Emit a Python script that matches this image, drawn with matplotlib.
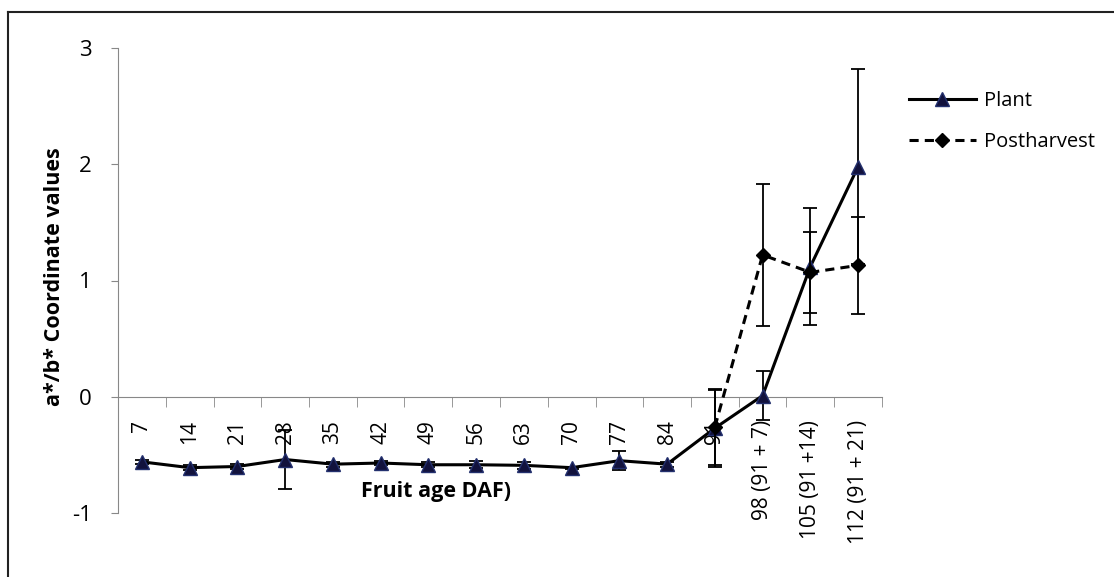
import numpy as np
import matplotlib
matplotlib.use("Agg")
import matplotlib.pyplot as plt
from matplotlib.lines import Line2D

categories = ["7", "14", "21", "28", "35", "42", "49", "56", "63", "70", "77", "84", "91",
              "98 (91 + 7)", "105 (91 +14)", "112 (91 + 21)"]
plant = [-0.56, -0.61, -0.60, -0.54, -0.58, -0.57, -0.585, -0.585, -0.59, -0.61, -0.55, -0.58,
         -0.27, 0.01, 1.12, 1.98]
plant_err = [0.02, 0.02, 0.02, 0.25, 0.02, 0.02, 0.02, 0.03, 0.03, 0.01, 0.08, 0.02,
             0.33, 0.21, 0.50, 0.84]
post = [np.nan] * 12 + [-0.26, 1.22, 1.07, 1.13]
post_err = [np.nan] * 12 + [0.33, 0.61, 0.35, 0.42]

plt.rcParams['font.family'] = ['Open Sans', 'DejaVu Sans']

fig = plt.figure(figsize=(11.14, 5.77), dpi=100)
ax = fig.add_axes([118/1114, 1-513/577, (882-118)/1114, (513-48)/577])

x = np.arange(len(categories))
ax.errorbar(x, plant, yerr=plant_err, color='black', lw=2.2, capsize=5, elinewidth=1.3,
            capthick=1.3, marker='^', ms=10, mfc='#12123d', mec='#23306e', zorder=3)
ax.errorbar(x, post, yerr=post_err, color='black', lw=2.2, ls=(0, (3, 2)), capsize=5,
            elinewidth=1.3, capthick=1.3, marker='D', ms=7.5, mfc='black', mec='black', zorder=4)

ax.set_xlim(-0.5, len(categories) - 0.5)
ax.set_ylim(-1, 3)
ax.set_yticks([-1, 0, 1, 2, 3])
ax.set_yticklabels(['-1', '0', '1', '2', '3'])
ax.spines['top'].set_visible(False)
ax.spines['right'].set_visible(False)
ax.spines['left'].set_color('#888888')
ax.spines['bottom'].set_color('#888888')
ax.spines['bottom'].set_position(('data', 0))
ax.tick_params(axis='y', direction='out', length=5, color='#888888', labelsize=16, pad=14)
ax.set_xticks(x)
ax.set_xticklabels(categories, rotation=90, va='top', ha='center')
ax.tick_params(axis='x', which='major', length=0, labelsize=15, pad=17)
ax.set_xticks(np.arange(-0.5, len(categories), 1.0), minor=True)
ax.tick_params(axis='x', which='minor', direction='out', length=7, color='#888888')

fig.text(436/1114, 1-492/577, 'Fruit age DAF)', fontsize=15.5, fontweight='bold', ha='center', va='center')
fig.text(55/1114, 1-277/577, 'a*/b* Coordinate values', fontsize=15.5, fontweight='bold',
         rotation=90, ha='center', va='center')

handles = [Line2D([], [], color='black', lw=2.2, marker='^', ms=10, mfc='#12123d', mec='#23306e'),
           Line2D([], [], color='black', lw=2.2, ls=(0, (3, 2)), marker='D', ms=7.5, mfc='black')]
fig.legend(handles, ['Plant', 'Postharvest'], loc='upper left', bbox_to_anchor=(891/1114, 1-73/577),
           frameon=False, fontsize=14.5, handlelength=3.3, labelspacing=1.05, handletextpad=0.4)

# outer border
fig.add_artist(Line2D([8/1114, 8/1114], [0, 1-12/577], color='#222222', lw=1.5, transform=fig.transFigure))
fig.add_artist(Line2D([8/1114, 1], [1-12/577, 1-12/577], color='#222222', lw=1.5, transform=fig.transFigure))

fig.savefig('out.png', dpi=100)
